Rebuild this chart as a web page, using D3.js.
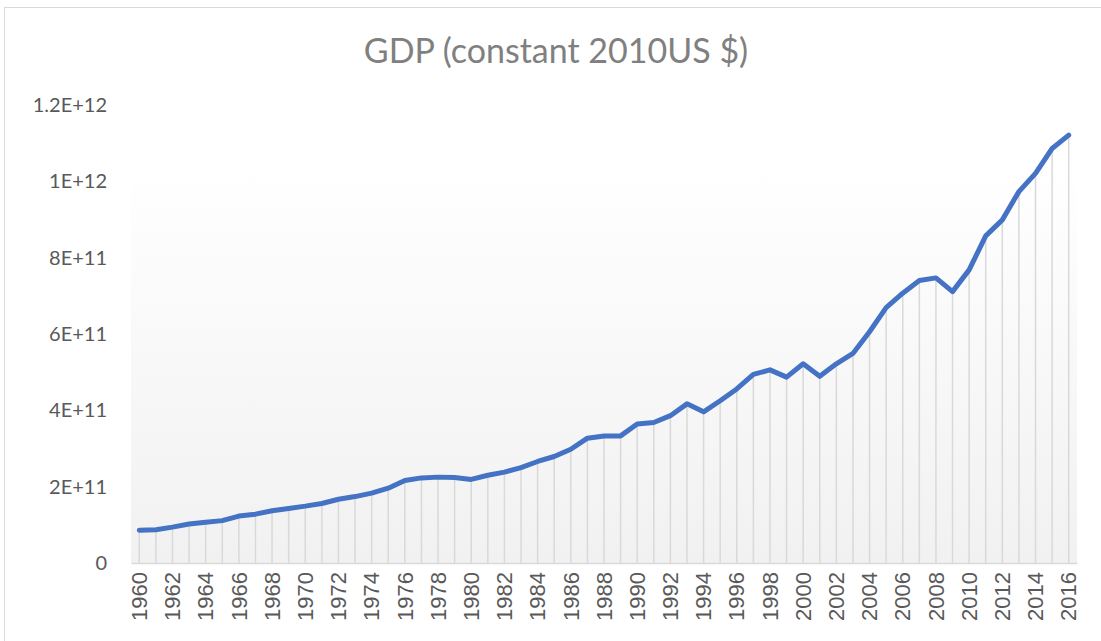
<!DOCTYPE html>
<html>
<head>
<meta charset="utf-8">
<script src="https://cdn.jsdelivr.net/npm/d3@7"></script>
<style>
  body { margin: 0; background: #fff; }
  #chart { width: 1101px; height: 641px; }
</style>
</head>
<body>
<div id="chart"></div>
<script>
// dados
const years = d3.range(1960, 2017);
const gdp = [
  86e9, 87e9, 94e9, 102e9, 107e9, 111e9, 123e9, 128e9, 137e9, 143e9,
  149e9, 156e9, 167e9, 174e9, 183e9, 196e9, 216e9, 223e9, 225e9, 224e9,
  219e9, 230e9, 238e9, 250e9, 266e9, 279e9, 298e9, 327e9, 333e9, 333e9,
  364e9, 368e9, 386e9, 417e9, 396e9, 425e9, 456e9, 494e9, 506e9, 487e9,
  522e9, 489e9, 522e9, 549e9, 606e9, 669e9, 707e9, 740e9, 747e9, 711e9,
  768e9, 857e9, 899e9, 973e9, 1021e9, 1086e9, 1121e9
];
const yTicks = [0, 2e11, 4e11, 6e11, 8e11, 1e12, 1.2e12];
const yTickLabels = ["0", "2E+11", "4E+11", "6E+11", "8E+11", "1E+12", "1.2E+12"];
const xTickYears = years.filter(y => y % 2 === 0);
const title = "GDP (constant 2010US $)";

const width = 1101, height = 641;
const margin = { top: 105, right: 24, bottom: 78, left: 131 };

const svg = d3.select("#chart").append("svg")
  .attr("width", width)
  .attr("height", height);

// moldura do gráfico
svg.append("rect")
  .attr("x", 4.5).attr("y", 7.5)
  .attr("width", width).attr("height", height)
  .attr("fill", "#fff")
  .attr("stroke", "#d9d9d9");

const x = d3.scaleBand()
  .domain(years)
  .range([margin.left, width - margin.right])
  .padding(0);
const cx = d => x(d) + x.bandwidth() / 2;

const y = d3.scaleLinear()
  .domain([0, 1.2e12])
  .range([height - margin.bottom, margin.top]);

// gradiente da área do gráfico
const grad = svg.append("defs").append("linearGradient")
  .attr("id", "bg").attr("x1", 0).attr("y1", 0).attr("x2", 0).attr("y2", 1);
grad.append("stop").attr("offset", "0%").attr("stop-color", "#ffffff");
grad.append("stop").attr("offset", "100%").attr("stop-color", "#f1f1f1");

svg.append("rect")
  .attr("x", margin.left)
  .attr("y", 165)
  .attr("width", width - margin.right - margin.left)
  .attr("height", y(0) - 165)
  .attr("fill", "url(#bg)");

// título
svg.append("text")
  .attr("x", 556)
  .attr("y", 63)
  .attr("text-anchor", "middle")
  .style("font-family", "Lato, 'Open Sans', sans-serif")
  .style("font-size", "34px")
  .style("fill", "#808080")
  .text(title);

// linhas verticais (drop lines)
svg.append("g")
  .selectAll("line")
  .data(years)
  .enter()
  .append("line")
  .attr("x1", d => cx(d)).attr("x2", d => cx(d))
  .attr("y1", (d, i) => y(gdp[i]))
  .attr("y2", y(0))
  .attr("stroke", "#d9d9d9")
  .attr("stroke-width", 1.5);

// Eixo Y
const yAxis = svg.append("g")
  .attr("transform", `translate(${margin.left},0)`)
  .call(d3.axisLeft(y).tickValues(yTicks).tickSize(0).tickPadding(24)
    .tickFormat((d, i) => yTickLabels[i]));
yAxis.select(".domain").remove();
yAxis.selectAll("text")
  .style("font-family", "Lato, sans-serif")
  .style("font-size", "20px")
  .style("fill", "#595959");

// Eixo X
const xAxis = svg.append("g")
  .attr("transform", `translate(0,${y(0)})`)
  .call(d3.axisBottom(x).tickValues(xTickYears).tickSize(0));
xAxis.select(".domain")
  .attr("stroke", "#d9d9d9")
  .attr("stroke-width", 1.5);
xAxis.selectAll("text")
  .attr("transform", "rotate(-90)")
  .attr("x", -9)
  .attr("y", 0)
  .attr("dy", "0.35em")
  .style("text-anchor", "end")
  .style("font-family", "'Liberation Sans', Arial, sans-serif")
  .style("font-size", "22px")
  .style("fill", "#595959");

// Linha
const line = d3.line()
  .x((d, i) => cx(years[i]))
  .y(d => y(d));

svg.append("path")
  .datum(gdp)
  .attr("d", line)
  .attr("fill", "none")
  .attr("stroke", "#4472c4")
  .attr("stroke-width", 5)
  .attr("stroke-linejoin", "round")
  .attr("stroke-linecap", "round");
</script>
</body>
</html>
